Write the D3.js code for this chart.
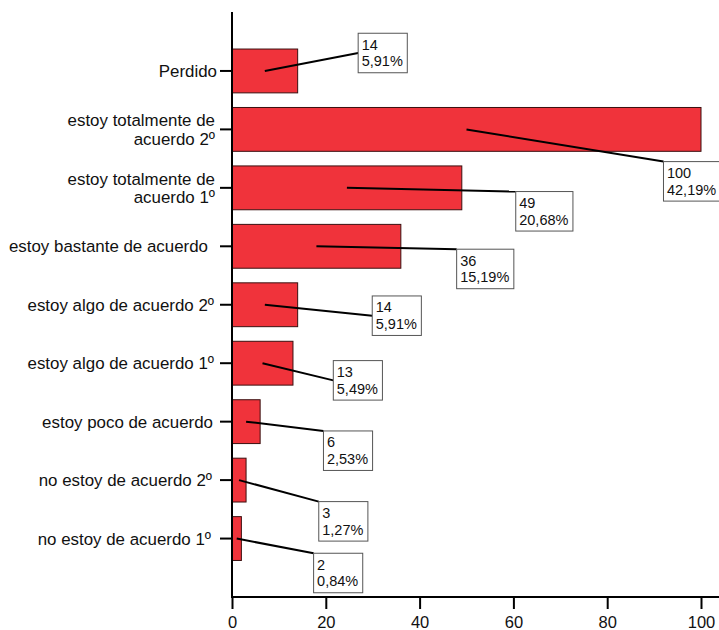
<!DOCTYPE html>
<html>
<head>
<meta charset="utf-8">
<script src="https://cdn.jsdelivr.net/npm/d3@7/dist/d3.min.js"></script>
<style>
  html, body { margin: 0; padding: 0; background: #fff; }
  svg { display: block; }
  text { font-family: "Liberation Sans", Arial, sans-serif; fill: #111; }
</style>
</head>
<body>
<svg id="chart" width="719" height="630"></svg>
<script>
// ---- data ----
const categories = [
  "Perdido",
  "estoy totalmente de|acuerdo 2º",
  "estoy totalmente de|acuerdo 1º",
  "estoy bastante de acuerdo",
  "estoy algo de acuerdo 2º",
  "estoy algo de acuerdo 1º",
  "estoy poco de acuerdo",
  "no estoy de acuerdo 2º",
  "no estoy de acuerdo 1º"
];
const counts = [14, 100, 49, 36, 14, 13, 6, 3, 2];
const percents = ["5,91%", "42,19%", "20,68%", "15,19%", "5,91%", "5,49%", "2,53%", "1,27%", "0,84%"];
const xTicks = [0, 20, 40, 60, 80, 100];

// ---- label box placement (layout) ----
const boxX = [26.9, 92.0, 60.5, 47.9, 29.9, 21.6, 19.5, 18.5, 17.4];      // in value units
const boxDy = [-37.7, 32.2, 3.7, 2.9, -8.8, -2.6, 9.3, 21.5, 14.7];       // px from bar centre
const boxAnchor = ["mid", "top", "top", "top", "mid", "mid", "top", "top", "top"];
const labelRight = [217, 215, 215, 208, 214, 214, 213, 212, 211];         // px, right edge of category label

const svg = d3.select("#chart");
const x = d3.scaleLinear().domain([0, 100]).range([232, 701]);
const y = d3.scaleBand().domain(categories).range([12.5, 597])
  .paddingInner(0.25).paddingOuter(0.625);

// bars
svg.append("g").selectAll("rect").data(categories).join("rect")
  .attr("x", x(0))
  .attr("y", d => y(d))
  .attr("width", (d, i) => x(counts[i]) - x(0))
  .attr("height", y.bandwidth())
  .attr("fill", "#f0333b")
  .attr("stroke", "#3a1010")
  .attr("stroke-width", 1);

// x axis
const xAxis = svg.append("g").attr("transform", "translate(0,597)")
  .call(d3.axisBottom(x).tickValues(xTicks).tickSize(12).tickPadding(7).tickSizeOuter(0));
xAxis.select(".domain").remove();
xAxis.selectAll(".tick line").attr("stroke", "#000").attr("stroke-width", 2);
xAxis.selectAll(".tick text").attr("font-size", 16.5).attr("font-family", "Liberation Sans, Arial, sans-serif").attr("fill", "#111");
svg.append("line").attr("x1", x(0) - 1).attr("x2", 719).attr("y1", 597).attr("y2", 597)
  .attr("stroke", "#000").attr("stroke-width", 2);

// y axis
const yAxis = svg.append("g").attr("transform", `translate(${x(0)},0)`)
  .call(d3.axisLeft(y).tickSize(12).tickSizeOuter(0).tickFormat(""));
yAxis.select(".domain").remove();
yAxis.selectAll(".tick line").attr("stroke", "#000").attr("stroke-width", 2);
svg.append("line").attr("x1", x(0)).attr("x2", x(0)).attr("y1", 12).attr("y2", 598)
  .attr("stroke", "#000").attr("stroke-width", 2);

// category labels
const catG = svg.append("g");
categories.forEach((c, i) => {
  const lines = c.split("|");
  const cy = y(c) + y.bandwidth() / 2;
  const t = catG.append("text")
    .attr("text-anchor", "end")
    .attr("font-size", 16.9);
  lines.forEach((ln, k) => {
    t.append("tspan")
      .attr("x", labelRight[i])
      .attr("y", cy + (k - (lines.length - 1) / 2) * 18.5 + 6)
      .text(ln);
  });
});

// value labels with leader lines
const lab = svg.append("g");
categories.forEach((c, i) => {
  const cy = y(c) + y.bandwidth() / 2;
  const sx = x(counts[i] / 2);
  const bx = x(boxX[i]);
  const by = cy + boxDy[i];
  const g = lab.append("g");
  const t1 = g.append("text").attr("x", bx + 3.5).attr("y", by + 16.5).attr("font-size", 14.5).text(counts[i]);
  const t2 = g.append("text").attr("x", bx + 3.5).attr("y", by + 33).attr("font-size", 14.5).text(percents[i]);
  const w = Math.max(t1.node().getComputedTextLength(), t2.node().getComputedTextLength()) + 8;
  const h = 39.5;
  g.insert("rect", "text")
    .attr("x", bx).attr("y", by).attr("width", w).attr("height", h)
    .attr("fill", "#fff").attr("stroke", "#555").attr("stroke-width", 1);
  const ey = boxAnchor[i] === "mid" ? by + h / 2 : by;
  lab.insert("line", "g")
    .attr("x1", sx).attr("y1", cy).attr("x2", bx).attr("y2", ey)
    .attr("stroke", "#000").attr("stroke-width", 2);
});
</script>
</body>
</html>
